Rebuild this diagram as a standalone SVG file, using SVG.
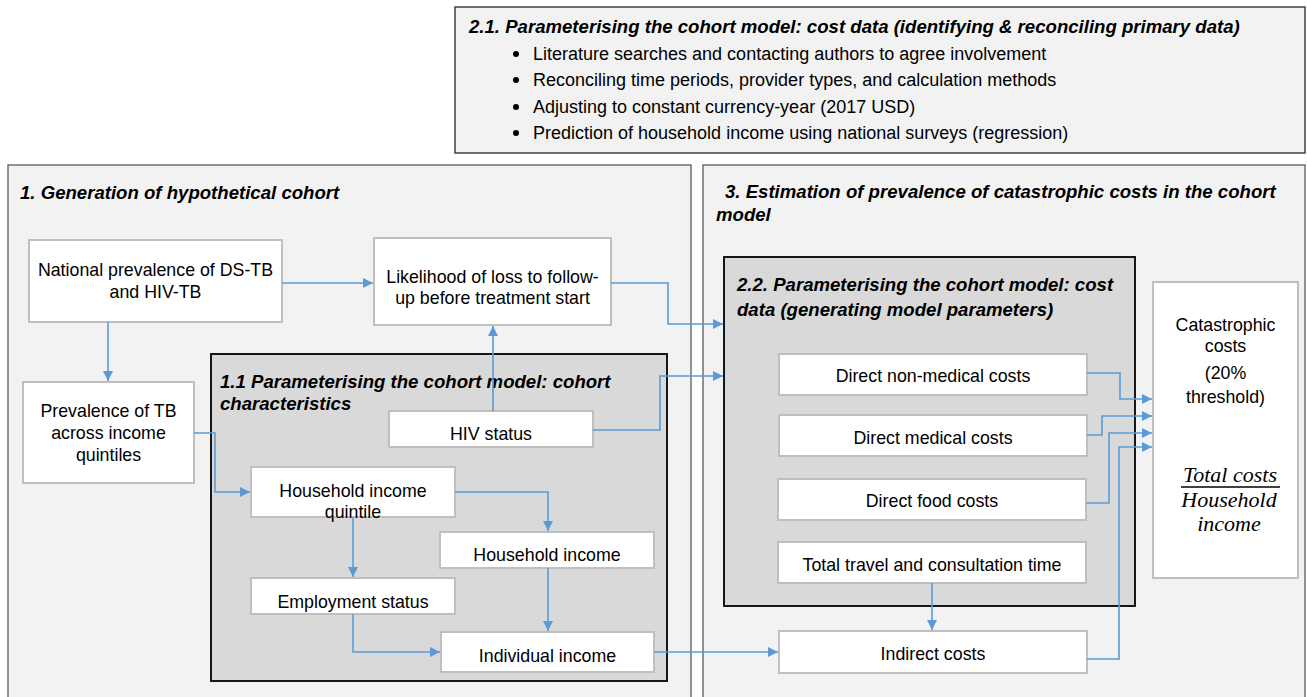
<svg xmlns="http://www.w3.org/2000/svg" width="1307" height="697" viewBox="0 0 1307 697">
<style>
.bg{fill:#ffffff}
.sec{fill:#f2f2f2;stroke:#5a5a5a;stroke-width:1.3}
.top{fill:#f2f2f2;stroke:#404040;stroke-width:1.5}
.inner{fill:#d9d9d9;stroke:#000;stroke-width:1.8}
.node{fill:#fff;stroke:#bfbfbf;stroke-width:2}
.t{font-family:"Liberation Sans",Arial,sans-serif;font-size:17.8px;fill:#000}
.b{font-size:18px}
.c{text-anchor:middle}
.h{font-family:"Liberation Sans",Arial,sans-serif;font-size:18.6px;font-weight:bold;font-style:italic;fill:#000}
.m{font-family:"Liberation Serif","DejaVu Serif",serif;font-style:italic;font-size:22px;text-anchor:middle;fill:#000}
.conn path{fill:none;stroke:#5b9bd5;stroke-width:1.6}
.a{marker-end:url(#arr)}
</style>
<defs>
<marker id="arr" markerUnits="userSpaceOnUse" markerWidth="12" markerHeight="12" refX="10" refY="5" orient="auto">
<path d="M0,0 L10,5 L0,10 z" fill="#5b9bd5"/>
</marker>
</defs>
<rect class="bg" x="0" y="0" width="1307" height="697"/>

<g id="box-2-1">
<rect class="top" x="455" y="7" width="850" height="146"/>
<text class="h" x="469" y="33">2.1. Parameterising the cohort model: cost data (identifying &amp; reconciling primary data)</text>
<circle cx="516" cy="54" r="3" fill="#000"/>
<circle cx="516" cy="80" r="3" fill="#000"/>
<circle cx="516" cy="107" r="3" fill="#000"/>
<circle cx="516" cy="133" r="3" fill="#000"/>
<text class="t b" x="533" y="60">Literature searches and contacting authors to agree involvement</text>
<text class="t b" x="533" y="86">Reconciling time periods, provider types, and calculation methods</text>
<text class="t b" x="533" y="113">Adjusting to constant currency-year (2017 USD)</text>
<text class="t b" x="533" y="139">Prediction of household income using national surveys (regression)</text>
</g>

<g id="section-1">
<rect class="sec" x="8" y="165" width="683" height="540"/>
<text class="h" x="20" y="199">1. Generation of hypothetical cohort</text>
</g>

<g id="section-3">
<rect class="sec" x="703" y="165" width="602" height="540"/>
<text class="h" x="725" y="198">3. Estimation of prevalence of catastrophic costs in the cohort</text>
<text class="h" x="716" y="221">model</text>
</g>

<g id="box-1-1">
<rect class="inner" x="211" y="354" width="456" height="327"/>
<text class="h" x="220" y="388">1.1 Parameterising the cohort model: cohort</text>
<text class="h" x="220" y="410">characteristics</text>
</g>

<g id="box-2-2">
<rect class="inner" x="724" y="257" width="411" height="349"/>
<text class="h" x="737" y="291">2.2. Parameterising the cohort model: cost</text>
<text class="h" x="737" y="316">data (generating model parameters)</text>
</g>

<g id="national-prevalence">
<rect class="node" x="29" y="240" width="253" height="82"/>
<text class="t c" x="155.5" y="276">National prevalence of DS-TB</text>
<text class="t c" x="155.5" y="298">and HIV-TB</text>
</g>

<g id="likelihood-ltfu">
<rect class="node" x="374" y="238" width="237" height="87"/>
<text class="t c" x="492.5" y="283">Likelihood of loss to follow-</text>
<text class="t c" x="492.5" y="304">up before treatment start</text>
</g>

<g id="prevalence-tb">
<rect class="node" x="23" y="382" width="171" height="101"/>
<text class="t c" x="108.5" y="417">Prevalence of TB</text>
<text class="t c" x="108.5" y="439">across income</text>
<text class="t c" x="108.5" y="461">quintiles</text>
</g>

<g id="hiv-status">
<rect class="node" x="389" y="411" width="204" height="36"/>
<text class="t c" x="491" y="440">HIV status</text>
</g>

<g id="hh-income-quintile">
<rect class="node" x="251" y="467" width="204" height="50"/>
<text class="t c" x="353" y="497">Household income</text>
<text class="t c" x="353" y="518">quintile</text>
</g>

<g id="household-income">
<rect class="node" x="440" y="532" width="214" height="36"/>
<text class="t c" x="547" y="561">Household income</text>
</g>

<g id="employment-status">
<rect class="node" x="251" y="578" width="204" height="36"/>
<text class="t c" x="353" y="608">Employment status</text>
</g>

<g id="individual-income">
<rect class="node" x="441" y="632" width="213" height="40"/>
<text class="t c" x="547.5" y="662">Individual income</text>
</g>

<g id="direct-non-medical">
<rect class="node" x="779" y="354" width="308" height="41"/>
<text class="t c" x="933" y="382">Direct non-medical costs</text>
</g>

<g id="direct-medical">
<rect class="node" x="779" y="415" width="308" height="41"/>
<text class="t c" x="933" y="444">Direct medical costs</text>
</g>

<g id="direct-food">
<rect class="node" x="778" y="479" width="308" height="41"/>
<text class="t c" x="932" y="507">Direct food costs</text>
</g>

<g id="total-travel">
<rect class="node" x="778" y="542" width="308" height="41"/>
<text class="t c" x="932" y="571">Total travel and consultation time</text>
</g>

<g id="indirect-costs">
<rect class="node" x="779" y="631" width="308" height="42"/>
<text class="t c" x="933" y="660">Indirect costs</text>
</g>

<g id="catastrophic-costs">
<rect class="node" x="1153" y="282" width="145" height="296"/>
<text class="t c" x="1225.5" y="331">Catastrophic</text>
<text class="t c" x="1225.5" y="352">costs</text>
<text class="t c" x="1225.5" y="379">(20%</text>
<text class="t c" x="1225.5" y="403">threshold)</text>
<text class="m" x="1230" y="482">Total costs</text>
<line x1="1181" y1="487" x2="1280" y2="487" stroke="#000" stroke-width="1.3"/>
<text class="m" x="1229" y="507">Household</text>
<text class="m" x="1229" y="531">income</text>
</g>

<g id="connectors" class="conn">
<path class="a" d="M282,283 H373"/>
<path class="a" d="M108,322 V381"/>
<path class="a" d="M611,283 H668 V324 H723"/>
<path class="a" d="M493,411 V326"/>
<path class="a" d="M593,430 H660 V376 H723"/>
<path class="a" d="M194,433 H215 V492 H250"/>
<path class="a" d="M455,492 H548 V531"/>
<path class="a" d="M353,517 V577"/>
<path class="a" d="M548,568 V631"/>
<path class="a" d="M353,614 V652 H440"/>
<path class="a" d="M654,652 H778"/>
<path class="a" d="M932,583 V630"/>
<path class="a" d="M1087,373 H1120 V399 H1152"/>
<path class="a" d="M1087,435 H1102 V416 H1152"/>
<path class="a" d="M1086,503 H1109 V433 H1152"/>
<path class="a" d="M1087,659 H1119 V447 H1152"/>
</g>
</svg>
